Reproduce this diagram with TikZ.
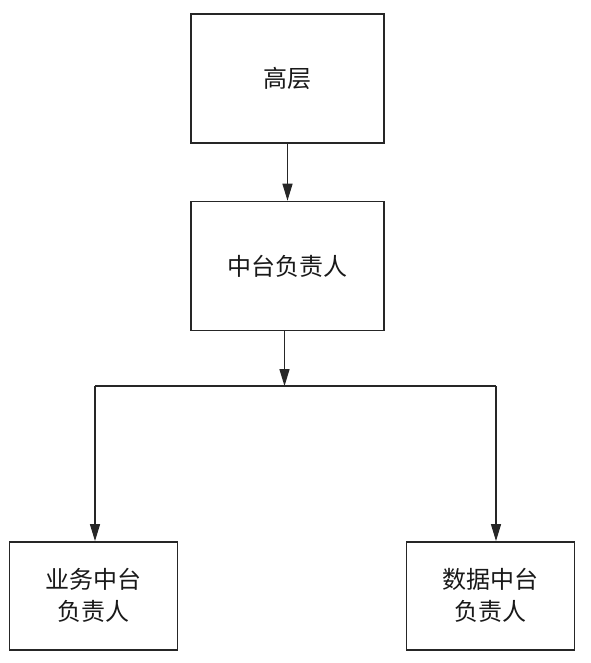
\documentclass[tikz,border=0pt]{standalone}
\usepackage{fontspec}
\setmainfont{Noto Sans CJK SC}
\usetikzlibrary{positioning, arrows.meta, calc}
\colorlet{drawColor}{black!85}
\tikzstyle{rect}=[rectangle, align=center, draw=drawColor, line width=1.4pt,
fill=white, minimum width=193pt, minimum height=129pt, inner sep=0pt,
font=\fontsize{24}{32}\selectfont, text=black!90]
\tikzstyle{smallRect}=[rect, minimum width=168pt, minimum height=108pt]
\tikzstyle{line}=[line width=1.3pt, draw=drawColor]
\tikzstyle{arrow}=[line, -{Triangle[length=17pt, width=10pt]}]

\begin{document}
\begin{tikzpicture}[x=1pt, y=1pt]
      \useasboundingbox (0,0) rectangle (590,-663);
      \node(boss) [rect] at (287.5,-78.5) {高层};
      \node(lead) [rect, below=57pt of boss] {中台负责人};
      \draw [arrow] (boss) -- (lead);
      \node(biz) [smallRect, below=210pt of lead, xshift=-194pt] {业务中台\\负责人};
      \node(data) [smallRect, below=210pt of lead, xshift=203pt] {数据中台\\负责人};
      \coordinate(split) at ($(lead.south)+(-3pt,-55pt)$);
      \coordinate(leftDrop) at ($(split -| biz.north)+(1.5pt,0)$);
      \coordinate(rightDrop) at ($(split -| data.north)+(5.5pt,0)$);
      \draw [arrow] (lead.south -| split) -- (split);
      \draw [line] (leftDrop) -- (rightDrop);
      \draw [arrow] (leftDrop) -- (leftDrop |- biz.north);
      \draw [arrow] (rightDrop) -- (rightDrop |- data.north);
    \end{tikzpicture}
\end{document}
